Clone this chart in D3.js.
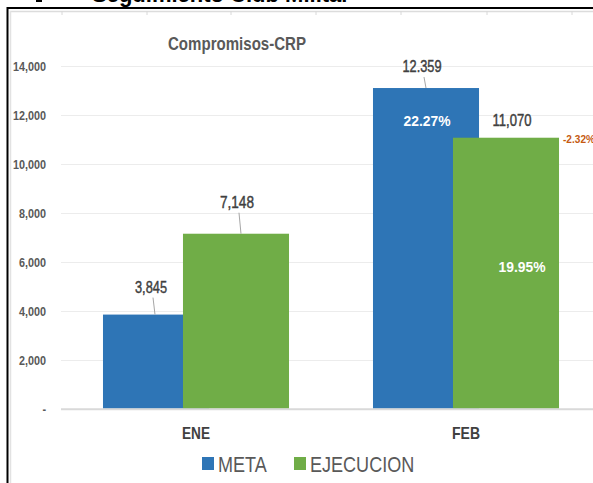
<!DOCTYPE html>
<html>
<head>
<meta charset="utf-8">
<script src="https://cdn.jsdelivr.net/npm/d3@7"></script>
<style>
  html, body { margin: 0; padding: 0; background: #fff; }
  svg { display: block; font-family: "Liberation Sans", Arial, sans-serif; }
</style>
</head>
<body>
<svg id="chart" width="593" height="483"></svg>
<script>
// Compromisos-CRP chart

var months = ["ENE", "FEB"];
var series = ["META", "EJECUCION"];
var metaValues = [3845, 13100];
var ejecValues = [7148, 11070];
var metaLabels = ["3,845", "12.359"];
var ejecLabels = ["7,148", "11,070"];
var pctLabels = ["22.27%", "19.95%", "-2.32%"];
var yTicks = [0, 2000, 4000, 6000, 8000, 10000, 12000, 14000];
var colors = { META: "#2e75b6", EJECUCION: "#70ad47" };

var svg = d3.select("#chart");

// the source is a squeezed screenshot, so text is narrowed after layout
function condense(sel, k) {
    sel.each(function() {
        var w = this.getComputedTextLength();
        d3.select(this).attr("textLength", w * k).attr("lengthAdjust", "spacingAndGlyphs");
    });
}

// sheet bits around the chart (cut off title, cell lines, frame)
svg.append("text")
    .attr("x", 92).attr("y", 2)
    .attr("font-size", 22).attr("font-weight", "bold")
    .attr("fill", "#000")
    .text("Seguimiento Club Militar");
svg.append("rect").attr("x", 36).attr("y", 0).attr("width", 6).attr("height", 2).attr("fill", "#000");

svg.append("line").attr("x1", 7).attr("x2", 593).attr("y1", 8).attr("y2", 8)
    .attr("stroke", "#000").attr("stroke-width", 2);
svg.append("line").attr("x1", 7.5).attr("x2", 7.5).attr("y1", 7).attr("y2", 483)
    .attr("stroke", "#000").attr("stroke-width", 2);
svg.append("line").attr("x1", 10).attr("x2", 593).attr("y1", 11.5).attr("y2", 11.5)
    .attr("stroke", "#dcdcdc").attr("stroke-width", 1.5);
svg.append("line").attr("x1", 10.5).attr("x2", 10.5).attr("y1", 11).attr("y2", 483)
    .attr("stroke", "#e2e2e2").attr("stroke-width", 1.5);
svg.selectAll(".cell").data([62, 147, 231, 316, 401, 487, 572]).enter()
    .append("line")
    .attr("x1", function(d) { return d; }).attr("x2", function(d) { return d; })
    .attr("y1", 11).attr("y2", 15)
    .attr("stroke", "#d8d8d8");

// scales
var x0 = d3.scaleBand().domain(months).range([61, 601])
    .paddingInner(0.311).paddingOuter(0.1555);
var barW = x0.bandwidth() * 0.57;
var x1 = d3.scaleOrdinal().domain(series).range([0, x0.bandwidth() - barW]);
var y = d3.scaleLinear().domain([0, 14000]).range([408.7, 66]);

// grid
svg.append("g").selectAll("line").data(yTicks.slice(1)).enter()
    .append("line")
    .attr("x1", 61).attr("x2", 593)
    .attr("y1", function(d) { return Math.round(y(d)) + 0.5; })
    .attr("y2", function(d) { return Math.round(y(d)) + 0.5; })
    .attr("stroke", "#ececec").attr("stroke-width", 1.2);

// y axis labels
var yAxis = d3.axisLeft(y).tickValues(yTicks).tickSize(0)
    .tickFormat(function(d) { return d === 0 ? "-" : d3.format(",")(d); });
var ya = svg.append("g").attr("transform", "translate(46,0)").call(yAxis);
ya.select(".domain").remove();
ya.selectAll("text")
    .attr("x", 0).attr("dy", "0.38em")
    .attr("font-family", "Liberation Sans, Arial, sans-serif")
    .attr("font-size", 13).attr("font-weight", "bold")
    .attr("fill", "#595959")
    .call(condense, 0.83);

// title
svg.append("text")
    .attr("x", 237).attr("y", 50)
    .attr("text-anchor", "middle")
    .attr("font-size", 19).attr("font-weight", "bold")
    .attr("fill", "#595959")
    .attr("textLength", 138).attr("lengthAdjust", "spacingAndGlyphs")
    .text("Compromisos-CRP");

// bars
var rows = months.map(function(m, i) {
    return { month: m, i: i, META: metaValues[i], EJECUCION: ejecValues[i] };
});
var groups = svg.append("g").selectAll("g").data(rows).enter()
    .append("g")
    .attr("transform", function(d) { return "translate(" + x0(d.month) + ",0)"; });
groups.selectAll("rect")
    .data(function(d) { return series.map(function(s) { return { key: s, value: d[s] }; }); })
    .enter().append("rect")
    .attr("x", function(d) { return x1(d.key); })
    .attr("width", barW)
    .attr("y", function(d) { return y(d.value); })
    .attr("height", function(d) { return y(0) - y(d.value); })
    .attr("fill", function(d) { return colors[d.key]; });

// baseline
svg.append("line")
    .attr("x1", 61).attr("x2", 593)
    .attr("y1", y(0) + 0.5).attr("y2", y(0) + 0.5)
    .attr("stroke", "#d9d9d9").attr("stroke-width", 2);

// value labels, with small leader lines where Excel moved the label
var labelNudge = {
    META: [{ dx: -5, dy: -22, w: 32, lead: true }, { dx: -4, dy: -16, w: 39, lead: true }],
    EJECUCION: [{ dx: 1, dy: -26, w: 34, lead: true }, { dx: 6, dy: -12, w: 39, lead: false }]
};
function valueLabel(key, vals, labels) {
    vals.forEach(function(v, i) {
        var cx = x0(months[i]) + x1(key) + barW / 2;
        var n = labelNudge[key][i];
        var ty = y(v) + n.dy;
        svg.append("text")
            .attr("x", cx + n.dx).attr("y", ty)
            .attr("text-anchor", "middle")
            .attr("font-size", 17)
            .attr("fill", "#404040")
            .attr("stroke", "#404040").attr("stroke-width", 0.45)
            .attr("textLength", n.w).attr("lengthAdjust", "spacingAndGlyphs")
            .text(labels[i]);
        if (n.lead) {
            svg.append("line")
                .attr("x1", cx + n.dx + 2).attr("y1", ty + 5)
                .attr("x2", cx + n.dx + 4).attr("y2", y(v))
                .attr("stroke", "#a6a6a6").attr("stroke-width", 1);
        }
    });
}
valueLabel("META", metaValues, metaLabels);
valueLabel("EJECUCION", ejecValues, ejecLabels);

// percentages inside the FEB bars
var febMetaX = x0("FEB") + x1("META") + barW / 2;
var febEjecX = x0("FEB") + x1("EJECUCION") + barW / 2;
svg.append("text")
    .attr("x", febMetaX + 1).attr("y", y(metaValues[1]) + 38)
    .attr("text-anchor", "middle")
    .attr("font-size", 15).attr("font-weight", "bold").attr("fill", "#fff")
    .attr("textLength", 47).attr("lengthAdjust", "spacingAndGlyphs")
    .text(pctLabels[0]);
svg.append("text")
    .attr("x", febEjecX + 16).attr("y", (y(ejecValues[1]) + y(0)) / 2 - 1)
    .attr("text-anchor", "middle")
    .attr("font-size", 15).attr("font-weight", "bold").attr("fill", "#fff")
    .attr("textLength", 47).attr("lengthAdjust", "spacingAndGlyphs")
    .text(pctLabels[1]);
svg.append("text")
    .attr("x", x0("FEB") + x1("EJECUCION") + barW + 4).attr("y", y(ejecValues[1]) + 5)
    .attr("font-size", 10).attr("font-weight", "bold").attr("fill", "#c55a11")
    .attr("textLength", 32).attr("lengthAdjust", "spacingAndGlyphs")
    .text(pctLabels[2]);

// x axis labels
svg.append("g").selectAll("text").data(months).enter()
    .append("text")
    .attr("x", function(d) { return x0(d) + x0.bandwidth() / 2; })
    .attr("y", 439)
    .attr("text-anchor", "middle")
    .attr("font-size", 17).attr("font-weight", "bold")
    .attr("fill", "#404040")
    .attr("textLength", 28).attr("lengthAdjust", "spacingAndGlyphs")
    .text(function(d) { return d; });

// legend
var legendX = [202, 294];
var lg = svg.append("g").selectAll("g").data(series).enter()
    .append("g")
    .attr("transform", function(d, i) { return "translate(" + legendX[i] + ",457)"; });
lg.append("rect").attr("width", 12).attr("height", 13)
    .attr("fill", function(d) { return colors[d]; });
lg.append("text")
    .attr("x", 16).attr("y", 15)
    .attr("font-size", 22).attr("fill", "#595959")
    .call(function(s) { s.text(function(d) { return d; }); })
    .call(condense, 0.82);
</script>
</body>
</html>
